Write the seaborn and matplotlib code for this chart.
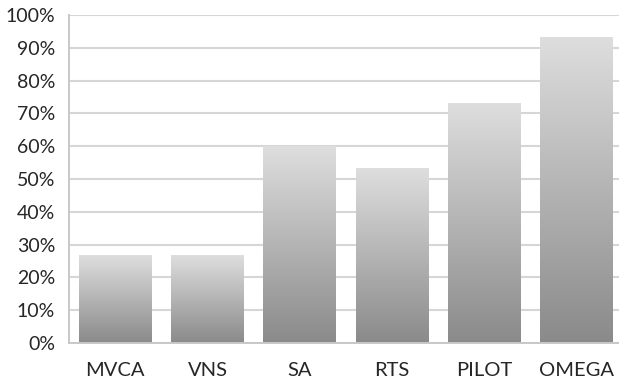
import matplotlib
matplotlib.use("Agg")
import matplotlib.pyplot as plt
import matplotlib.ticker as mticker
from matplotlib.colors import LinearSegmentedColormap
import numpy as np
import pandas as pd
import seaborn as sns

methods = ["MVCA", "VNS", "SA", "RTS", "PILOT", "OMEGA"]
share = [0.267, 0.267, 0.600, 0.533, 0.733, 0.933]

df = pd.DataFrame({"method": methods, "share": share})

sns.set_style("white")
plt.rcParams["font.family"] = ["Lato", "DejaVu Sans"]

fig = plt.figure(figsize=(6.19, 3.86), dpi=100)
ax = fig.add_axes([69 / 619, 43 / 386, 554 / 619, 328 / 386])

sns.barplot(data=df, x="method", y="share", color="#b0b0b0", width=0.79, ax=ax, zorder=2)

# gradient fill: light at the top of each bar, darker at the base
grey_ramp = LinearSegmentedColormap.from_list("ramp", ["#8a8a8a", "#dedede"])
grad = np.linspace(0, 1, 256).reshape(-1, 1)
for bar in ax.patches:
    x0, y0 = bar.get_x(), bar.get_y()
    w, h = bar.get_width(), bar.get_height()
    bar.set_facecolor("none")
    bar.set_edgecolor("none")
    img = ax.imshow(grad, cmap=grey_ramp, origin="lower", aspect="auto",
                    extent=[x0, x0 + w, y0, y0 + h], zorder=2)
    img.set_clip_path(bar)

ax.set_xlim(-0.5, len(methods) - 0.5)
ax.set_ylim(0, 1.0)
ax.yaxis.set_major_locator(mticker.MultipleLocator(0.1))
ax.yaxis.set_major_formatter(mticker.PercentFormatter(1.0, decimals=0))
ax.grid(axis="y", color="#d6d6d6", linewidth=1.5, zorder=0)
ax.set_axisbelow(True)

ax.xaxis.set_minor_locator(mticker.FixedLocator(np.arange(-0.5, len(methods), 1)))
ax.tick_params(axis="x", which="major", length=0, pad=14, labelsize=14.5, labelcolor="#262626")
ax.tick_params(axis="x", which="minor", length=6, width=1.3, color="#c8c8c8")
ax.tick_params(axis="y", length=5, width=1.3, color="#c8c8c8", labelsize=14,
               labelcolor="#262626", pad=5)

sns.despine(ax=ax, top=True, right=True)
for side in ["left", "bottom"]:
    ax.spines[side].set_color("#c8c8c8")
    ax.spines[side].set_linewidth(1.4)

ax.set_xlabel("")
ax.set_ylabel("")

fig.savefig("out.png", dpi=100)
